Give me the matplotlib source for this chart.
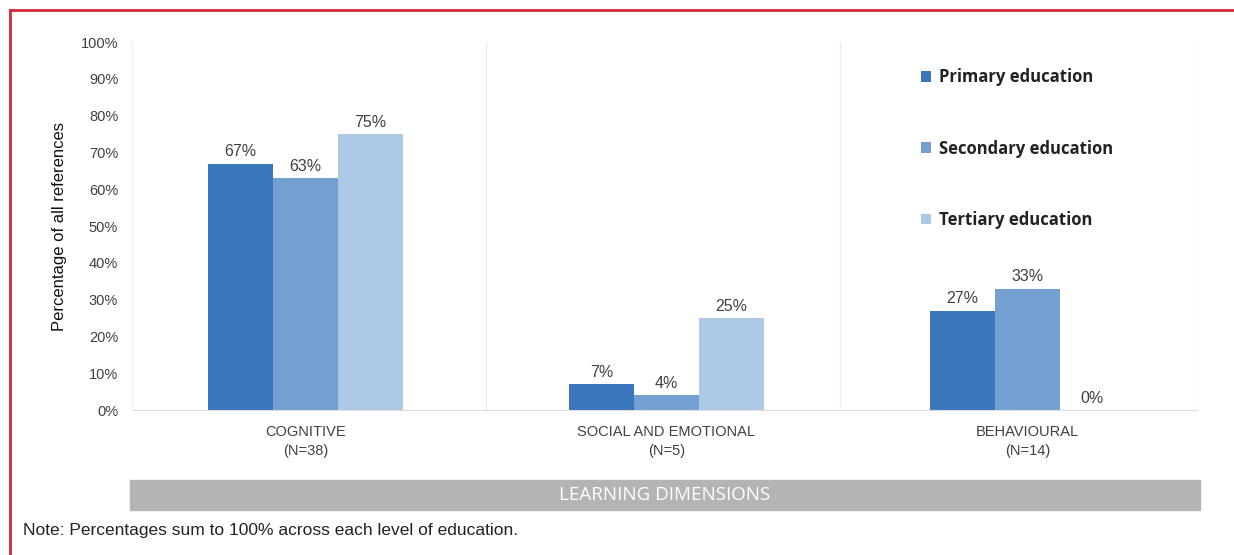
import matplotlib.pyplot as plt
from matplotlib.lines import Line2D
from matplotlib.patches import Rectangle
from matplotlib.ticker import PercentFormatter
import numpy as np

categories = ['COGNITIVE\n(N=38)', 'SOCIAL AND EMOTIONAL\n(N=5)', 'BEHAVIOURAL\n(N=14)']
levels = ['Primary education', 'Secondary education', 'Tertiary education']
primary = [67, 7, 27]
secondary = [63, 4, 33]
tertiary = [75, 25, 0]
colors = ['#3a76bc', '#73a0d1', '#aec9e6']

fig = plt.figure(figsize=(12.34, 5.55), dpi=100)
ax = fig.add_axes([0.107, 0.261, 0.863, 0.663])

x = np.arange(len(categories))
width = 0.18
for i, (vals, col, lab) in enumerate(zip([primary, secondary, tertiary], colors, levels)):
    bars = ax.bar(x + (i - 1) * width, vals, width, color=col, label=lab)
    for b, v in zip(bars, vals):
        ax.text(b.get_x() + b.get_width() / 2, v + 1.2, f'{v}%', ha='center', va='bottom',
                fontsize=11.5, color='#404040', family='Liberation Sans')

ax.set_ylim(0, 100)
ax.set_xlim(-0.48, 2.47)
ax.set_yticks(range(0, 101, 10))
ax.yaxis.set_major_formatter(PercentFormatter(decimals=0))
ax.tick_params(axis='y', length=0, labelsize=10.5, labelcolor='#404040', pad=10)
for t in ax.get_yticklabels():
    t.set_family('Liberation Sans')
ax.set_xticks(x)
ax.set_xticklabels(categories, fontsize=10.5, color='#404040', family='Liberation Sans',
                   linespacing=1.42)
ax.tick_params(axis='x', length=0, pad=11)

for s in ['top', 'right']:
    ax.spines[s].set_visible(False)
ax.spines['left'].set_color('#eeeeee')
ax.spines['bottom'].set_color('#dddddd')
for sep in [0.5, 1.48, 2.47]:
    ax.axvline(sep, color='#eeeeee', lw=1)

ax.set_ylabel('Percentage of all references', fontsize=12, color='#111111', labelpad=10,
              family='Liberation Sans')

ax.legend(loc='upper left', bbox_to_anchor=(0.727, 0.97), frameon=False, handlelength=0.6,
          handleheight=0.6, handletextpad=0.45, labelspacing=3.2,
          prop={'family': 'Open Sans', 'weight': 'bold', 'size': 12}, labelcolor='#222222')

# grey band with the axis title
fig.patches.append(Rectangle((130 / 1234, 1 - 510 / 555), 1070 / 1234, 30 / 555,
                             transform=fig.transFigure, color='#b4b4b4', zorder=0))
fig.text(665 / 1234, 1 - 495 / 555, 'LEARNING DIMENSIONS', ha='center', va='center',
         color='white', fontsize=13.5, family='Open Sans')

fig.text(23 / 1234, 1 - 531 / 555, 'Note: Percentages sum to 100% across each level of education.',
         ha='left', va='center', fontsize=12.5, color='#222222', family='Liberation Sans')

# red frame
fig.lines.append(Line2D([10 / 1234, 1], [1 - 10 / 555] * 2, transform=fig.transFigure,
                        color='#d22a3c', lw=2))
fig.lines.append(Line2D([10 / 1234] * 2, [0, 1 - 10 / 555], transform=fig.transFigure,
                        color='#d22a3c', lw=2))

fig.savefig('out.png', dpi=100)
